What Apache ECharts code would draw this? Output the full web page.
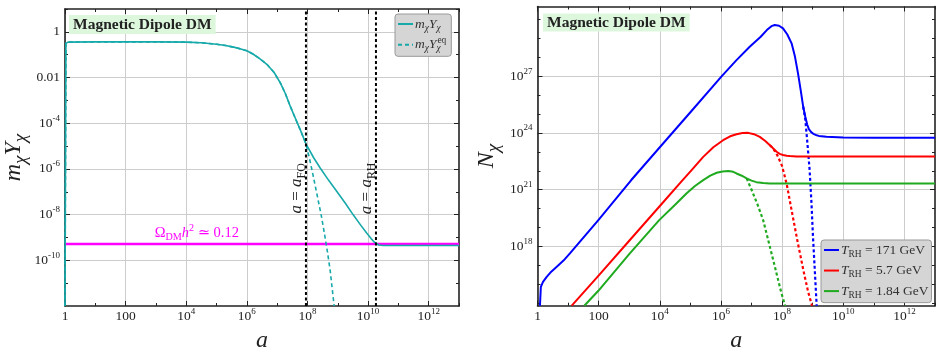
<!DOCTYPE html>
<html><head><meta charset="utf-8">
<script src="https://cdn.jsdelivr.net/npm/echarts@6/dist/echarts.min.js"></script>
<style>html,body{margin:0;padding:0;background:#fff}#c{width:943px;height:354px}</style>
</head><body><div id="c"></div>
<script>
// ================= DATA (log10 values) =================
// Left panel axes
const leftXMin = 0, leftXMax = 13;
const leftYMin = -12, leftYMax = 1;
const leftXMajor = [0, 2, 4, 6, 8, 10, 12];
const leftXMinor = [1, 3, 5, 7, 9, 11, 13];
const leftYMajor = [-10, -8, -6, -4, -2, 0];
const leftYMinor = [-11, -9, -7, -5, -3, -1, 1];

// log10(a), log10(m_chi Y_chi)
const mY_logA = [0, 0.03, 0.1, 1, 2, 3, 4, 4.5, 5, 5.3, 5.6, 5.8, 6, 6.2, 6.4, 6.66, 6.9, 7.1, 7.27, 7.43, 7.6, 7.76, 7.95, 8.2, 8.42, 8.7, 8.97, 9.25, 9.51, 9.75, 9.96, 10.1, 10.2, 10.26, 10.35, 10.5, 11, 12, 13];
const mY_logV = [-12, -0.5, -0.45, -0.44, -0.44, -0.44, -0.45, -0.48, -0.54, -0.6, -0.68, -0.75, -0.83, -0.97, -1.15, -1.42, -1.78, -2.22, -2.7, -3.25, -3.78, -4.28, -4.9, -5.5, -5.96, -6.5, -6.99, -7.5, -8.01, -8.45, -8.82, -9.05, -9.2, -9.28, -9.33, -9.35, -9.35, -9.35, -9.35];
// log10(a), log10(m_chi Y_chi^eq)
const mYeq_logA = [0, 0.03, 0.1, 1, 2, 3, 4, 4.5, 5, 5.3, 5.6, 5.8, 6, 6.2, 6.4, 6.66, 6.9, 7.1, 7.27, 7.43, 7.6, 7.76, 7.95, 8.05, 8.15, 8.25, 8.35, 8.45, 8.55, 8.65, 8.75, 8.88];
const mYeq_logV = [-12, -0.5, -0.45, -0.44, -0.44, -0.44, -0.45, -0.48, -0.54, -0.6, -0.68, -0.75, -0.83, -0.97, -1.15, -1.42, -1.78, -2.22, -2.7, -3.25, -3.78, -4.28, -4.9, -5.45, -6.05, -6.7, -7.35, -8.0, -8.75, -9.55, -10.45, -12.0];
const omegaLogV = -9.29;           // Omega_DM h^2 ~ 0.12 level
const aFO_log = 7.95, aRH_log = 10.26;

// Right panel axes
const rightXMin = 0, rightXMax = 13;
const rightYMin = 14.86, rightYMax = 30.7;
const rightXMajor = [0, 2, 4, 6, 8, 10, 12];
const rightXMinor = [1, 3, 5, 7, 9, 11, 13];
const rightYMajor = [18, 21, 24, 27];
const rightYMinor = [15, 16, 17, 19, 20, 22, 23, 25, 26, 28, 29, 30];

// log10(a), log10(N_chi)  T_RH = 171 GeV
const blue_logA = [0.08, 0.11, 0.18, 0.3, 0.45, 0.63, 0.85, 1.06, 1.99, 3.06, 4.0, 5.0, 6.02, 6.5, 6.94, 7.3, 7.5, 7.65, 7.76, 7.9, 8.03, 8.17, 8.31, 8.42, 8.52, 8.61, 8.69, 8.76, 8.82, 8.88, 8.95, 9.02, 9.1, 9.2, 9.45, 10, 11, 12, 13];
const blue_logN = [14.86, 15.86, 16.12, 16.39, 16.66, 16.92, 17.25, 17.63, 19.39, 21.5, 23.25, 25.1, 27.0, 27.85, 28.57, 29.1, 29.45, 29.66, 29.72, 29.68, 29.54, 29.22, 28.75, 28.05, 27.16, 26.25, 25.39, 24.85, 24.45, 24.2, 24.05, 23.96, 23.9, 23.85, 23.8, 23.76, 23.75, 23.75, 23.75];
const blueEq_logA = [8.69, 8.76, 8.82, 8.9, 8.96, 9.01, 9.07, 9.13];
const blueEq_logN = [25.39, 24.7, 23.6, 22.04, 20.3, 18.5, 16.7, 14.86];
// T_RH = 5.7 GeV
const red_logA = [1.12, 1.99, 3.0, 3.98, 4.71, 5.04, 5.42, 5.75, 6.07, 6.3, 6.51, 6.7, 6.89, 7.08, 7.27, 7.45, 7.6, 7.72, 7.82, 7.92, 8.03, 8.15, 8.25, 8.47, 9, 10, 11, 12, 13];
const red_logN = [14.86, 16.44, 18.3, 20.1, 21.44, 22.04, 22.74, 23.25, 23.62, 23.83, 23.94, 24.0, 24.01, 23.94, 23.8, 23.58, 23.36, 23.17, 23.01, 22.9, 22.84, 22.8, 22.78, 22.76, 22.76, 22.76, 22.76, 22.76, 22.76];
const redEq_logA = [7.6, 7.72, 7.85, 8.0, 8.15, 8.3, 8.5, 8.7, 8.85, 8.98];
const redEq_logN = [23.36, 23.15, 22.8, 22.25, 21.3, 20.0, 18.3, 16.7, 15.6, 14.86];
// T_RH = 1.84 GeV
const green_logA = [1.53, 1.99, 3.02, 3.98, 4.5, 4.87, 5.15, 5.42, 5.65, 5.86, 6.05, 6.24, 6.4, 6.51, 6.68, 6.84, 7.0, 7.16, 7.38, 7.6, 8, 9, 10, 11, 12, 13];
const green_logN = [14.86, 15.65, 17.63, 19.39, 20.2, 20.8, 21.2, 21.51, 21.75, 21.9, 21.97, 21.99, 21.95, 21.86, 21.74, 21.6, 21.48, 21.4, 21.35, 21.33, 21.33, 21.33, 21.33, 21.33, 21.33, 21.33];
const greenEq_logA = [6.84, 7.0, 7.2, 7.38, 7.55, 7.71, 7.85, 7.98, 8.1];
const greenEq_logN = [21.6, 21.0, 20.2, 19.39, 18.3, 17.27, 16.35, 15.51, 14.86];

const titleText = 'Magnetic Dipole DM';
// ============================================================================

const SERIF = "'Liberation Serif','DejaVu Serif',serif";
const INK = '#222';
const TEAL = '#17a9a9', MAGENTA = '#ff00ff', BLUE = '#0000ff', RED = '#ff0000', GREEN = '#1faa1f';

const zip = (xs, ys) => xs.map((x, i) => [x, ys[i]]);

const tickRich = {
  b: {fontFamily: SERIF, fontSize: 13.5, color: INK, lineHeight: 19},
  s: {fontFamily: SERIF, fontSize: 9, color: INK, padding: [0, 0, 10, 0]}
};
function expLabel(v) { return '{b|10}{s|' + (v < 0 ? '-' + (-v) : v) + '}'; }
function xLabel(v) { v = Math.round(v); if (v === 0) return '{b|1}'; if (v === 2) return '{b|100}'; return expLabel(v); }
function leftYLabel(v) { v = Math.round(v); if (v === 0) return '{b|1}'; if (v === -2) return '{b|0.01}'; return expLabel(v); }
function rightYLabel(v) { return expLabel(Math.round(v)); }

function mathRich(fs, color, subScale) {
  const ss = subScale || 0.7;
  return {
    i: {fontFamily: SERIF, fontStyle: 'italic', fontSize: fs, color: color},
    n: {fontFamily: SERIF, fontSize: fs, color: color},
    sb: {fontFamily: SERIF, fontStyle: 'italic', fontSize: fs * ss, color: color, padding: [fs * 0.6, 0, 0, 0]},
    sbr: {fontFamily: SERIF, fontSize: fs * 0.7, color: color, padding: [fs * 0.6, 0, 0, 0]},
    sbw: {fontFamily: SERIF, fontStyle: 'italic', fontSize: fs * ss, color: color, padding: [fs * 0.6, 0, 0, 0], width: 1},
    sp: {fontFamily: SERIF, fontSize: fs * 0.7, color: color, padding: [0, 0, fs * 0.7, 0]}
  };
}

function axisSet(kind, gridIndex, min, max, majors, minors, labelFmt, nameCfg) {
  const posMain = kind === 'x' ? 'bottom' : 'left';
  const posOpp = kind === 'x' ? 'top' : 'right';
  const lineStyle = {color: INK, width: 1.6};
  const base = {type: 'value', gridIndex: gridIndex, min: min, max: max};
  const tickMaj = {show: true, inside: true, length: 5, customValues: majors, lineStyle: {color: INK, width: 1}};
  const tickMin = {show: true, inside: true, length: 3, customValues: minors, lineStyle: {color: INK, width: 1}};
  const main = Object.assign({}, base, {
    position: posMain,
    axisLine: {show: true, onZero: false, lineStyle: lineStyle},
    axisTick: tickMaj,
    axisLabel: {show: true, customValues: majors, formatter: labelFmt, rich: tickRich, margin: kind === 'x' ? 1 : 5},
    splitLine: {show: true, lineStyle: {color: '#cdcdcd', width: 1}}
  }, nameCfg);
  const mk = (pos, line, tick) => Object.assign({}, base, {
    position: pos,
    axisLine: {show: line, onZero: false, lineStyle: lineStyle},
    axisTick: tick,
    axisLabel: {show: false},
    splitLine: {show: false}
  });
  return [main, mk(posMain, false, tickMin), mk(posOpp, true, tickMaj), mk(posOpp, false, tickMin)];
}

const xAxes = [].concat(
  axisSet('x', 0, leftXMin, leftXMax, leftXMajor, leftXMinor, xLabel,
    {name: '{i|a}', nameLocation: 'middle', nameGap: 23, nameTextStyle: {rich: mathRich(24, INK)}}),
  axisSet('x', 1, rightXMin, rightXMax, rightXMajor, rightXMinor, xLabel,
    {name: '{i|a}', nameLocation: 'middle', nameGap: 23, nameTextStyle: {rich: mathRich(24, INK)}})
);
const yAxes = [].concat(
  axisSet('y', 0, leftYMin, leftYMax, leftYMajor, leftYMinor, leftYLabel,
    {name: '{i|m}{sb|χ}{i|Y}{sb|χ}', nameLocation: 'middle', nameRotate: 90, nameGap: 35, nameTextStyle: {rich: mathRich(24, INK, 0.8)}}),
  axisSet('y', 1, rightYMin, rightYMax, rightYMajor, rightYMinor, rightYLabel,
    {name: '{i|N}{sb|χ}', nameLocation: 'middle', nameRotate: 90, nameGap: 34, nameTextStyle: {rich: mathRich(24, INK, 0.8)}})
);

function line(name, xi, yi, data, color, width, type, z) {
  return {
    name: name, type: 'line', xAxisIndex: xi, yAxisIndex: yi, data: data,
    showSymbol: false, symbol: 'none', smooth: false,
    lineStyle: {color: color, width: width, type: type || 'solid', cap: 'butt', join: 'round'},
    itemStyle: {color: color}, z: z || 3, silent: true, animation: false, clip: true
  };
}

const series = [
  line('omega', 0, 0, [[leftXMin, omegaLogV], [leftXMax, omegaLogV]], MAGENTA, 2.5, 'solid', 2),
  line('mY', 0, 0, zip(mY_logA, mY_logV), TEAL, 1.6, 'solid', 3),
  line('mYeq', 0, 0, zip(mYeq_logA, mYeq_logV), TEAL, 1.6, [4, 3], 4),
  line('FO', 0, 0, [[aFO_log, leftYMin], [aFO_log, leftYMax]], '#000', 2, [3, 2.5], 5),
  line('RH', 0, 0, [[aRH_log, leftYMin], [aRH_log, leftYMax]], '#000', 2, [3, 2.5], 5),

  line('T171', 4, 4, zip(blue_logA, blue_logN), BLUE, 2, 'solid', 3),
  line('T57', 4, 4, zip(red_logA, red_logN), RED, 2, 'solid', 3),
  line('T184', 4, 4, zip(green_logA, green_logN), GREEN, 2, 'solid', 3),
  line('b_eq', 4, 4, zip(blueEq_logA, blueEq_logN), BLUE, 2.2, [3, 2.5], 2),
  line('r_eq', 4, 4, zip(redEq_logA, redEq_logN), RED, 2.2, [3, 2.5], 2),
  line('g_eq', 4, 4, zip(greenEq_logA, greenEq_logN), GREEN, 2.2, [3, 2.5], 2)
];

const legendNames = {
  mY: '{i|m}{sb|χ}{i|Y}{sb|χ}',
  mYeq: '{i|m}{sb|χ}{i|Y}{sbw|χ}{sp|eq}',
  T171: '{i|T}{sbr|RH}{n| = 171 GeV}',
  T57: '{i|T}{sbr|RH}{n| = 5.7 GeV}',
  T184: '{i|T}{sbr|RH}{n| = 1.84 GeV}'
};

const legendBase = {
  orient: 'vertical', backgroundColor: '#d5d5d5', borderColor: '#9a9a9a', borderWidth: 1, borderRadius: 3,
  itemWidth: 15, itemHeight: 10, itemGap: 3, selectedMode: false,
  itemStyle: {opacity: 0},
  formatter: n => legendNames[n]
};

const option = {
  animation: false,
  backgroundColor: '#fff',
  grid: [
    {left: 65, top: 9, width: 394, height: 297, outerBoundsMode: 'none', containLabel: false},
    {left: 537.5, top: 6.5, width: 397.5, height: 299.2, outerBoundsMode: 'none', containLabel: false}
  ],
  title: [
    {text: titleText, left: 69, top: 15, padding: [2, 4, 1, 4], backgroundColor: '#ddf7dd',
     textStyle: {fontFamily: SERIF, fontWeight: 'bold', fontSize: 15.5, color: INK}},
    {text: titleText, left: 543, top: 13.5, padding: [1, 4, 1, 4], backgroundColor: '#ddf7dd',
     textStyle: {fontFamily: SERIF, fontWeight: 'bold', fontSize: 15.5, color: INK}}
  ],
  legend: [
    Object.assign({}, legendBase, {data: ['mY', 'mYeq'], left: 395, top: 14, padding: [3, 5, 3, 2],
      textStyle: {rich: mathRich(13.5, '#333'), padding: [0, 0, 0, -3]}}),
    Object.assign({}, legendBase, {data: ['T171', 'T57', 'T184'], left: 821, top: 240, padding: [3, 3, 3, 2], itemGap: 5,
      textStyle: {rich: mathRich(13.5, '#333'), padding: [0, 0, 0, -3]}})
  ],
  xAxis: xAxes,
  yAxis: yAxes,
  series: series
};

const chart = echarts.init(document.getElementById('c'), null, {renderer: 'canvas'});
chart.setOption(option);

// Text annotations anchored to data coordinates
function gRich(fs, color) {
  const r = mathRich(fs, color);
  const out = {};
  Object.keys(r).forEach(k => { out[k] = Object.assign({}, r[k], {fill: color}); });
  return out;
}
const pFO = chart.convertToPixel({xAxisIndex: 0, yAxisIndex: 0}, [aFO_log, -6.85]);
const pRH = chart.convertToPixel({xAxisIndex: 0, yAxisIndex: 0}, [aRH_log, -6.85]);
const pOm = chart.convertToPixel({xAxisIndex: 0, yAxisIndex: 0}, [4.35, omegaLogV]);
chart.setOption({
  graphic: [
    {type: 'text', x: pFO[0] - 9, y: pFO[1], rotation: Math.PI / 2, z: 10,
     style: {text: '{i|a}{n| = }{i|a}{sbr|FO}', rich: gRich(17, '#222'), align: 'center', verticalAlign: 'middle'}},
    {type: 'text', x: pRH[0] - 9.5, y: pRH[1], rotation: Math.PI / 2, z: 10,
     style: {text: '{i|a}{n| = }{i|a}{sbr|RH}', rich: gRich(17, '#222'), align: 'center', verticalAlign: 'middle'}},
    {type: 'text', x: pOm[0], y: pOm[1] - 11, z: 10,
     style: {text: '{n|Ω}{sbr|DM}{i|h}{sp|2}{n| ≃ 0.12}', rich: gRich(14.5, MAGENTA), align: 'center', verticalAlign: 'middle'}}
  ]
});
</script>
</body></html>
